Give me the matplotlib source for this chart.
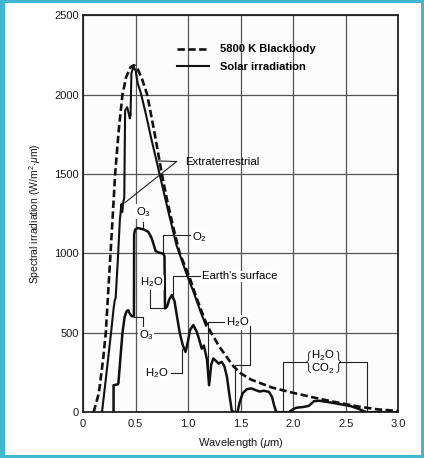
import matplotlib.pyplot as plt
from matplotlib.patches import Rectangle

plt.rcParams['font.family'] = ['Liberation Sans', 'DejaVu Sans']
plt.rcParams['mathtext.fontset'] = 'custom'
plt.rcParams['mathtext.rm'] = 'Liberation Sans'
plt.rcParams['mathtext.it'] = 'Liberation Sans:italic'

# 5800 K blackbody, scaled (dashed)
bb_wl = [0.10, 0.15, 0.19, 0.216, 0.24, 0.28, 0.305, 0.34, 0.375, 0.41, 0.45, 0.485,
         0.52, 0.56, 0.61, 0.68, 0.75, 0.80, 0.86, 0.92, 1.01, 1.08, 1.16, 1.21,
         1.30, 1.43, 1.50, 1.60, 1.80, 2.00, 2.20, 2.40, 2.60, 2.80, 3.00]
bb_irr = [0, 120, 330, 500, 768, 1210, 1500, 1780, 2000, 2110, 2170, 2185,
          2160, 2100, 2000, 1760, 1500, 1334, 1160, 1000, 856, 720, 580, 510,
          410, 290, 245, 205, 155, 122, 92, 64, 38, 18, 8]

# extraterrestrial solar irradiation
ext_wl = [0.18, 0.22, 0.266, 0.29, 0.30, 0.31, 0.33, 0.35, 0.365, 0.372, 0.385, 0.392,
          0.40, 0.42, 0.445, 0.452, 0.46, 0.48, 0.50, 0.52, 0.53, 0.55, 0.60, 0.65,
          0.70, 0.77, 0.82, 0.89, 0.98, 1.05, 1.12, 1.17]
ext_irr = [0, 230, 500, 650, 700, 720, 950, 1210, 1310, 1260, 1330, 1350,
           1900, 1920, 1850, 1870, 2135, 2175, 2150, 2070, 2050, 2010, 1870, 1720,
           1580, 1380, 1240, 1050, 880, 760, 630, 545]

# solar irradiation at the earth's surface
sur_wl = [0.29, 0.29, 0.33, 0.336, 0.36, 0.375, 0.395, 0.415, 0.43, 0.445, 0.464, 0.484,
          0.486, 0.495, 0.52, 0.543, 0.58, 0.62, 0.65, 0.67, 0.69, 0.72, 0.765, 0.775,
          0.78, 0.80, 0.82, 0.845, 0.87, 0.89, 0.92, 0.95, 0.975, 0.99, 1.02, 1.05,
          1.08, 1.10, 1.13, 1.15, 1.18, 1.20, 1.22, 1.24, 1.27, 1.29, 1.32, 1.345,
          1.37, 1.395, 1.416, 1.44, 1.47, 1.49, 1.52, 1.56, 1.60, 1.64, 1.68, 1.72,
          1.77, 1.80, 1.82, 1.84, 1.96, 1.99, 2.03, 2.10, 2.15, 2.20, 2.25, 2.35,
          2.45, 2.55, 2.62, 2.68, 2.70, 3.00]
sur_irr = [0, 170, 175, 182, 380, 500, 600, 637, 642, 620, 604, 604,
           1120, 1150, 1160, 1156, 1150, 1136, 1100, 1060, 1015, 1005, 998, 980,
           653, 665, 710, 737, 700, 620, 500, 420, 380, 420, 520, 548,
           510, 470, 400, 420, 330, 170, 300, 338, 320, 306, 317, 290,
           222, 100, 10, 0, 0, 60, 120, 145, 150, 140, 130, 135,
           128, 95, 40, 0, 0, 15, 28, 33, 40, 70, 72, 62,
           50, 38, 22, 5, 0, 0]

x_ticks = [0, 0.5, 1.0, 1.5, 2.0, 2.5, 3.0]
x_tick_labels = ['0', '0.5', '1.0', '1.5', '2.0', '2.5', '3.0']
y_ticks = [0, 500, 1000, 1500, 2000, 2500]

# absorption band call-outs: (label, text position, alignment, polyline)
callouts = [
    ('O$_3$', (0.575, 1262), 'center', [(0.575, 1195), (0.575, 1160)]),
    ('O$_2$', (1.04, 1100), 'left', [(1.02, 1115), (0.765, 1115), (0.765, 1000)]),
    ("Earth's surface", (1.13, 856), 'left', [(1.115, 856), (0.86, 856), (0.86, 726)]),
    ('H$_2$O', (0.654, 818), 'center', [(0.638, 780), (0.638, 655), (0.78, 655)]),
    ('O$_3$', (0.60, 488), 'center', [(0.48, 600), (0.574, 600), (0.574, 545)]),
    ('H$_2$O', (0.70, 245), 'center', [(0.835, 245), (0.94, 245), (0.94, 400)]),
    ('H$_2$O', (1.47, 565), 'center', [(1.43, 565), (1.19, 565), (1.19, 180)]),
    ('', (0, 0), 'center', [(1.59, 540), (1.59, 298), (1.448, 298), (1.448, 0)]),
    ('', (0, 0), 'center', [(1.90, 0), (1.90, 318), (2.13, 318)]),
    ('', (0, 0), 'center', [(2.44, 318), (2.70, 318), (2.70, 0)]),
]

fs = 8.2

fig = plt.figure(figsize=(4.24, 4.58), dpi=100)
fig.patch.set_facecolor('#41b6d3')
fig.add_artist(Rectangle((5 / 424, 3 / 458), 416 / 424, 452 / 458,
                         transform=fig.transFigure, facecolor='white',
                         edgecolor='none', zorder=-1))

ax = fig.add_axes([0.196, 0.100, 0.743, 0.867])
ax.set_facecolor('#fcfcfc')

bb_line, = ax.plot(bb_wl, bb_irr, color='#111111', lw=1.9,
                   linestyle=(0, (2.8, 1.3)), label='5800 K Blackbody', zorder=4)
ext_line, = ax.plot(ext_wl, ext_irr, color='#111111', lw=1.5,
                    label='Solar irradiation', zorder=5)
ax.plot(sur_wl, sur_irr, color='#111111', lw=1.8, zorder=5)

for label, pos, align, pts in callouts:
    xs = [p[0] for p in pts]
    ys = [p[1] for p in pts]
    ax.plot(xs, ys, color='#222222', lw=0.8, zorder=3)
    if label:
        ax.text(pos[0], pos[1], label, fontsize=fs, color='black',
                ha=align, va='center', zorder=6,
                bbox=dict(facecolor='white', edgecolor='none', pad=0.3))

ax.text(2.285, 318,
        r'$\left\{\genfrac{}{}{0}{0}{\mathrm{H_2O}}{\mathrm{CO_2}}\right\}$',
        fontsize=fs, ha='center', va='center', color='black', zorder=6)

# Extraterrestrial pointer
ax.text(0.97, 1576, 'Extraterrestrial', fontsize=fs, color='black',
        ha='left', va='center', zorder=6)
ax.plot([0.89, 0.715], [1578, 1582], color='#222222', lw=0.8, zorder=3)
ax.plot([0.89, 0.40], [1578, 1320], color='#222222', lw=0.8, zorder=3)

leg = ax.legend(handles=[bb_line, ext_line], loc='upper left',
                bbox_to_anchor=(0.298, 0.926), frameon=False,
                prop={'size': 8, 'weight': 'bold'},
                handlelength=2.9, handletextpad=0.95, labelspacing=0.7,
                borderpad=0, borderaxespad=0)

ax.set_xlim(0, 3.0)
ax.set_ylim(0, 2500)
ax.set_xticks(x_ticks)
ax.set_xticklabels(x_tick_labels)
ax.set_yticks(y_ticks)
ax.tick_params(length=0, labelsize=8, labelcolor='#1a1a1a')
ax.tick_params(axis='x', pad=5)
ax.tick_params(axis='y', pad=3)
ax.grid(True, color='#555555', lw=0.9)
ax.set_axisbelow(True)
for s in ax.spines.values():
    s.set_linewidth(1.3)
    s.set_color('#222222')

ax.set_xlabel('Wavelength ($\\mu$m)', fontsize=8, color='#1a1a1a', labelpad=5)
ax.set_ylabel('Spectral irradiation (W/m$^2$$\\cdot$$\\mu$m)', fontsize=7.5,
              color='#1a1a1a', labelpad=8)

fig.savefig('out.png', dpi=100)
